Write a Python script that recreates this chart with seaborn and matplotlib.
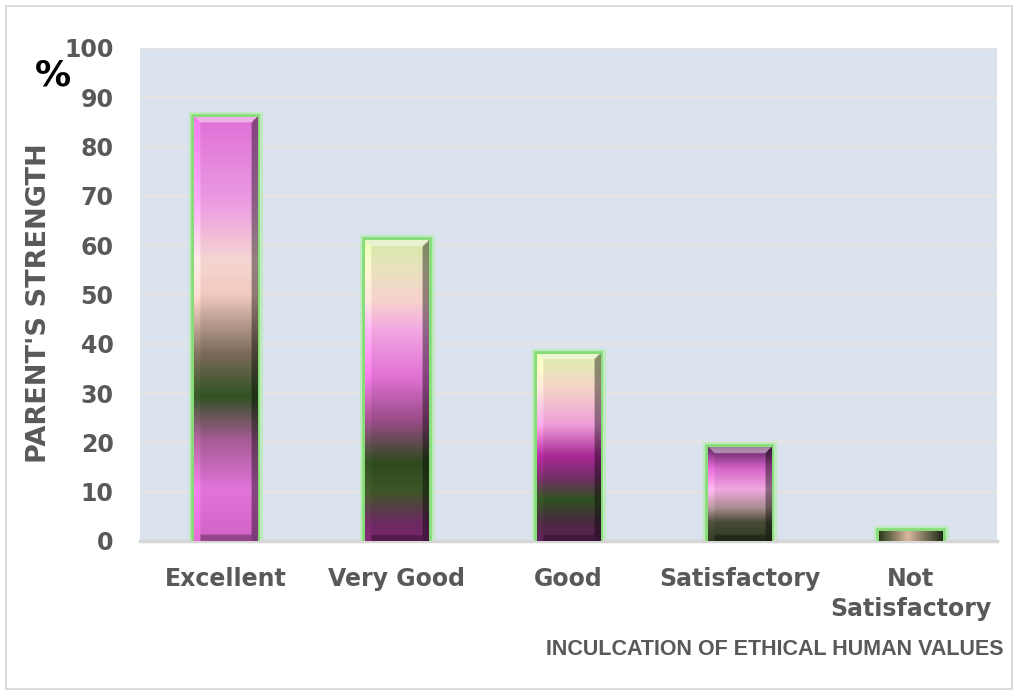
import numpy as np
import matplotlib

matplotlib.use("Agg")
import matplotlib.pyplot as plt
import seaborn as sns
from matplotlib.colors import LinearSegmentedColormap, to_rgb
from matplotlib.patches import Rectangle

categories = ["Excellent", "Very Good", "Good", "Satisfactory", "Not\nSatisfactory"]
values = [86, 61, 38, 19, 2]
yticks = [0, 10, 20, 30, 40, 50, 60, 70, 80, 90, 100]

# colour stops for each bar, bottom (0) to top (1)
bar_stops = [
    [(0.0, "#d262c6"), (0.12, "#e374da"), (0.24, "#a45a92"), (0.34, "#2f5222"),
     (0.44, "#7a6a58"), (0.58, "#f1c9c0"), (0.66, "#f6d6d2"), (0.8, "#eb9be2"), (1.0, "#e070d8")],
    [(0.0, "#7a2670"), (0.06, "#6c2a60"), (0.16, "#3e5628"), (0.26, "#2e4a1e"),
     (0.4, "#9a4c88"), (0.55, "#e272d6"), (0.7, "#f2a6e2"), (0.8, "#f8d2cc"), (0.92, "#e6e4bc"), (1.0, "#d6e8a6")],
    [(0.0, "#5e2056"), (0.1, "#4a2a40"), (0.22, "#2f5220"), (0.32, "#6c3060"),
     (0.45, "#a82894"), (0.62, "#ee9ed8"), (0.82, "#f6d6c8"), (1.0, "#dcefac")],
    [(0.0, "#2e3a20"), (0.2, "#4a4a38"), (0.35, "#a88c90"), (0.55, "#f0a8e0"),
     (0.78, "#d462c8"), (1.0, "#5a205a")],
    [(0.0, "#2a3c1c"), (0.45, "#d8b8a0"), (1.0, "#1e2a14")],
]

sns.set_theme(style="white")
plt.rcParams["font.family"] = ["DejaVu Sans"]

fig = plt.figure(figsize=(10.18, 6.95), dpi=100)
fig.patch.set_facecolor("white")
fig.add_artist(Rectangle((0.006, 0.008), 0.988, 0.984, transform=fig.transFigure,
                         fill=False, edgecolor="#d4d4d4", linewidth=1.2))

ax = fig.add_axes([0.1375, 0.2216, 0.8415, 0.7094])
ax.set_facecolor("#dae2ed")

sns.barplot(x=categories, y=values, width=0.37, color="#e070d8",
            edgecolor="#86dc76", linewidth=4, ax=ax, zorder=3)

ax.set_ylim(0, 100)
ax.set_xlim(-0.5, len(categories) - 0.5)
ax.set_yticks(yticks)
ax.yaxis.grid(True, color="#e8e4e0", linewidth=1.3, zorder=0)
ax.set_axisbelow(True)

px_per_unit = 4.93
for i, patch in enumerate(ax.patches):
    x0, y0 = patch.get_x(), patch.get_y()
    w, h = patch.get_width(), patch.get_height()
    # soft glow behind the bar
    ax.add_patch(Rectangle((x0, y0), w, h, fill=False, edgecolor="#b4ecaa",
                           linewidth=8, alpha=0.7, zorder=2.5))
    cmap = LinearSegmentedColormap.from_list(f"bar{i}", [(p, to_rgb(c)) for p, c in bar_stops[i]])
    ny, nx = 400, 80
    xs = np.linspace(0, 1, nx)
    ys = np.linspace(0, 1, ny)
    last = i == len(categories) - 1
    if last:
        rgb = cmap(np.tile(xs, (ny, 1)))[..., :3]
    else:
        rgb = cmap(np.tile(ys[:, None], (1, nx)))[..., :3]
        # bevel: bright top cap, light left edge, dark right edge, dark bottom
        bx = 0.1
        by = 6 / (h * px_per_unit)
        X, Y = np.meshgrid(xs, ys)
        d_left, d_right, d_top = X, 1 - X, 1 - Y
        top = (d_top < by) & ((d_top / by) < (np.minimum(d_left, d_right) / bx))
        right = (d_right < bx) & ~top
        left = (d_left < bx) & ~top & ~right
        bot = (Y < by) & ~top & ~right & ~left
        rgb[top] = rgb[top] * 0.55 + 0.45
        rgb[right] = rgb[right] * 0.6
        rgb[left] = np.clip(rgb[left] * 1.1, 0, 1)
        rgb[bot] = rgb[bot] * 0.7
    rgb = np.clip(rgb, 0, 1)
    im = ax.imshow(rgb, extent=(x0, x0 + w, y0, y0 + h), origin="lower",
                   aspect="auto", zorder=4, interpolation="bilinear")
    im.set_clip_path(patch)

ax.set_ylim(0, 100)
ax.set_xlim(-0.5, len(categories) - 0.5)

for side in ["top", "right", "left"]:
    ax.spines[side].set_visible(False)
ax.spines["bottom"].set_color("#d6d6d6")
ax.spines["bottom"].set_linewidth(2.5)

ax.tick_params(axis="y", length=0, pad=19, labelsize=17, labelcolor="#595959")
ax.tick_params(axis="x", length=0, pad=19, labelsize=17, labelcolor="#595959")
for lab in ax.get_xticklabels() + ax.get_yticklabels():
    lab.set_fontweight("bold")
    lab.set_linespacing(1.3)

ax.set_xlabel("")
ax.set_ylabel("")

fig.text(0.038, 0.564, "PARENT'S STRENGTH", rotation=90, fontsize=19.5, fontweight="bold",
         color="#595959", ha="center", va="center")
fig.text(0.052, 0.892, "%", fontsize=26, fontweight="bold", color="black",
         ha="center", va="center")
fig.text(0.986, 0.065, "INCULCATION OF ETHICAL HUMAN VALUES", fontsize=15.5,
         fontweight="bold", color="#595959", ha="right", va="center",
         family=["Liberation Sans", "DejaVu Sans"])

fig.savefig("out.png", dpi=100)
